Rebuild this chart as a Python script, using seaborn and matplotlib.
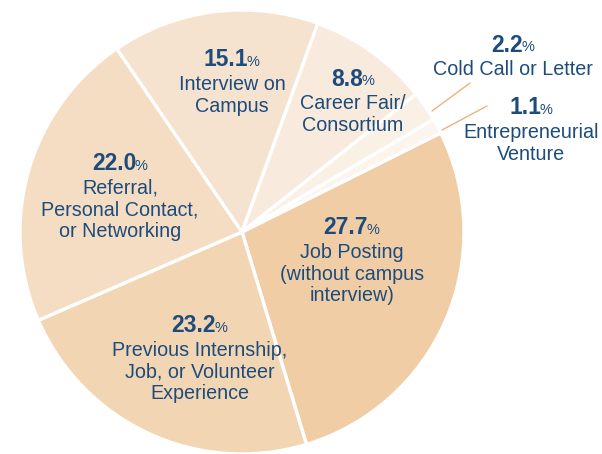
"""Pie chart of how graduates found their jobs."""

import matplotlib

matplotlib.use("Agg")
import matplotlib.pyplot as plt
import seaborn as sns

# data, in drawing order (clockwise from the Job Posting wedge)
categories = [
    "Job Posting\n(without campus\ninterview)",
    "Previous Internship,\nJob, or Volunteer\nExperience",
    "Referral,\nPersonal Contact,\nor Networking",
    "Interview on\nCampus",
    "Career Fair/\nConsortium",
    "Cold Call or Letter",
    "Entrepreneurial\nVenture",
]
shares = [27.7, 23.2, 22.0, 15.1, 8.8, 2.2, 1.1]
colors = ["#F0CDA5", "#F2D6B4", "#F4DDC2", "#F5E2CF", "#F8EBDD", "#FAF1E6", "#FBF5EE"]

TEXT = "#1D4C7C"
LEADER = "#EDB27C"
H = 454


def main():
    """Draw it."""
    sns.set_theme(style="white")
    plt.rcParams["font.family"] = ["Liberation Sans", "DejaVu Sans"]
    fig = plt.figure(figsize=(6.02, 4.54), dpi=100)
    ax = fig.add_axes([0, 0, 1, 1])
    ax.pie(
        shares,
        colors=colors,
        startangle=26.5,
        counterclock=False,
        center=(242, H - 232),
        radius=222,
        wedgeprops={"edgecolor": "white", "linewidth": 2.4},
    )
    ax.set_xlim(0, 602)
    ax.set_ylim(0, H)
    ax.set_aspect("equal")
    ax.axis("off")

    # label anchor (x of text centre, y of the number) in pixel space
    spots = [
        (352, 228),
        (200, 326),
        (120, 164),
        (232, 60),
        (353, 79),
        (513, 45),
        (531, 108),
    ]
    for val, lab, (x, y) in zip(shares, categories, spots):
        num = ax.text(
            x - 6, H - y, f"{val:.1f}", ha="center", va="center",
            fontsize=16.5, fontweight="bold", color=TEXT,
        )
        ax.annotate(
            "%", xy=(1, 0.1), xycoords=num, xytext=(-1, 0),
            textcoords="offset points", ha="left", va="bottom",
            fontsize=10.5, color=TEXT,
        )
        ax.text(
            x, H - y - 15, lab, ha="center", va="top", fontsize=14.2,
            color=TEXT, linespacing=1.18,
        )

    # leader lines for the two thin slices
    ax.plot([432, 470], [H - 111, H - 83], color=LEADER, lw=1)
    ax.plot([442, 487], [H - 130, H - 106], color=LEADER, lw=1)

    fig.savefig("out.png", dpi=100, facecolor="white")


if __name__ == "__main__":
    main()
